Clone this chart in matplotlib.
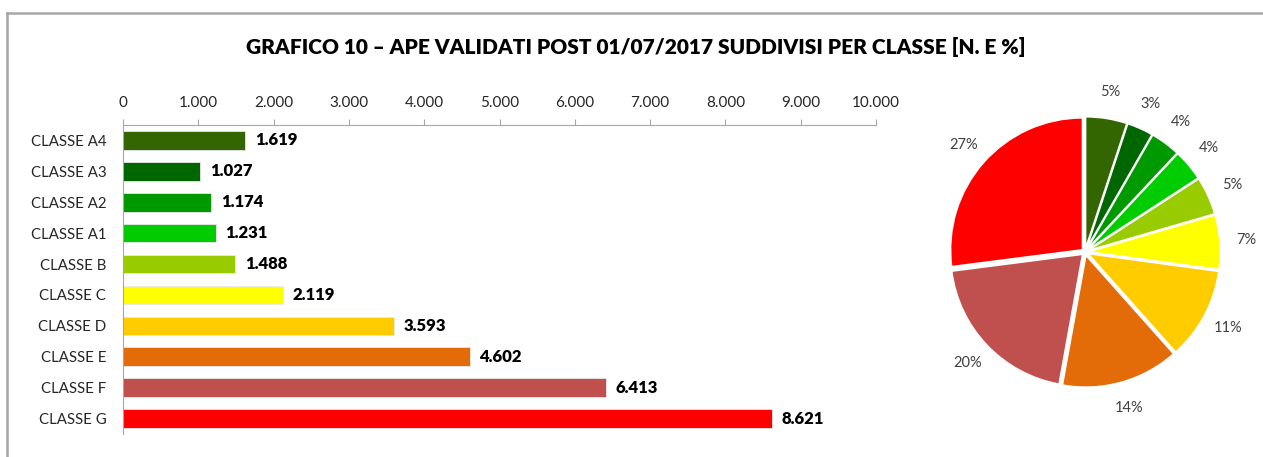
import matplotlib
matplotlib.use("Agg")
import matplotlib.pyplot as plt

plt.rcParams['font.family'] = ['Lato', 'DejaVu Sans']

classes = ['CLASSE A4', 'CLASSE A3', 'CLASSE A2', 'CLASSE A1', 'CLASSE B',
           'CLASSE C', 'CLASSE D', 'CLASSE E', 'CLASSE F', 'CLASSE G']
counts = [1619, 1027, 1174, 1231, 1488, 2119, 3593, 4602, 6413, 8621]
colors = ['#336600', '#006600', '#009900', '#00CC00', '#99CC00',
          '#FFFF00', '#FFCC00', '#E36C09', '#C0504D', '#FF0000']
xticks = [0, 1000, 2000, 3000, 4000, 5000, 6000, 7000, 8000, 9000, 10000]
title = 'GRAFICO 10 – APE VALIDATI POST 01/07/2017 SUDDIVISI PER CLASSE [N. E %]'

W, H = 1263, 457
fig = plt.figure(figsize=(W / 100, H / 100), dpi=100)

def it(v):
    return f"{v:,}".replace(',', '.')

# frame (only top and left visible)
fig.add_artist(plt.Line2D([7 / W, 7 / W], [0, 1 - 13 / H], transform=fig.transFigure,
                          color='#A6A6A6', lw=1.8))
fig.add_artist(plt.Line2D([7 / W, 1], [1 - 13 / H, 1 - 13 / H], transform=fig.transFigure,
                          color='#A6A6A6', lw=1.8))

fig.text(636 / W, 1 - 47 / H, title, ha='center', va='center',
         fontsize=15, fontweight='heavy', color='black')

# bar chart
ax = fig.add_axes([123 / W, 1 - 434 / H, 753 / W, 309 / H])
y = list(range(len(classes)))
ax.barh(y, counts, height=0.6, color=colors, edgecolor='#E8E8E8', linewidth=0.6)
ax.set_ylim(9.5, -0.5)
ax.set_xlim(0, 10000)
ax.set_xticks(xticks)
ax.set_xticklabels([it(t) for t in xticks])
ax.xaxis.tick_top()
ax.tick_params(axis='x', length=4, color='#A6A6A6', labelsize=11, pad=7, labelcolor='#262626')
ax.set_yticks(y)
ax.set_yticklabels(classes)
ax.tick_params(axis='y', length=0, labelsize=10.8, pad=12, labelcolor='#262626')
for s in ['right', 'bottom']:
    ax.spines[s].set_visible(False)
for s in ['top', 'left']:
    ax.spines[s].set_color('#A6A6A6')
for i, v in enumerate(counts):
    ax.text(v + 130, i, it(v), va='center', ha='left', fontsize=12, fontweight='heavy')

# pie chart
cx, cy, half = 1085, 252, 150
pax = fig.add_axes([(cx - half) / W, 1 - (cy + half) / H, 2 * half / W, 2 * half / H])
pax.pie(counts, colors=colors, startangle=90, counterclock=False,
        explode=[0.025] * len(counts), radius=1.0,
        autopct=lambda p: f"{p:.0f}%", pctdistance=1.2,
        wedgeprops=dict(edgecolor='white', linewidth=1.2),
        textprops=dict(fontsize=10.5, color='#404040'))
lim = half / 132
pax.set_xlim(-lim, lim)
pax.set_ylim(-lim, lim)
pax.set_aspect('equal')
pax.axis('off')

fig.savefig('out.png', dpi=100)
